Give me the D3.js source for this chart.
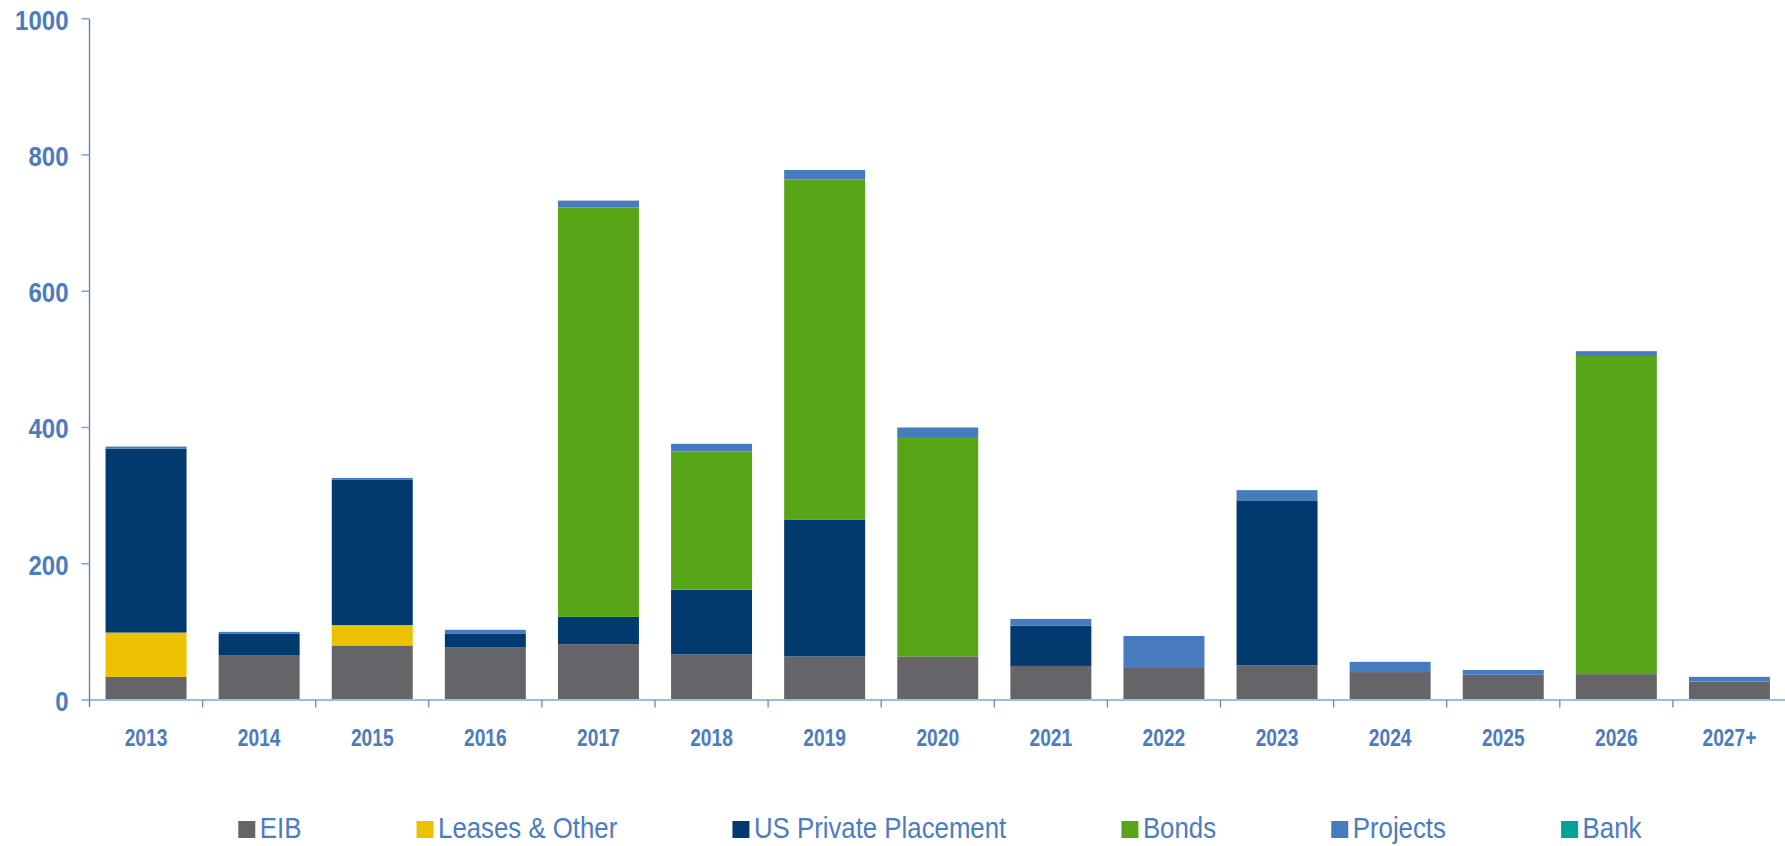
<!DOCTYPE html>
<html>
<head>
<meta charset="utf-8">
<script src="https://cdn.jsdelivr.net/npm/d3@7/dist/d3.min.js"></script>
<style>
  html, body { margin: 0; padding: 0; background: #ffffff; }
  svg { display: block; font-family: "Liberation Sans", Arial, sans-serif; }
</style>
</head>
<body>
<svg id="chart" width="1785" height="846"></svg>
<script>
// ---- Data ----
const categories = ["2013","2014","2015","2016","2017","2018","2019","2020","2021","2022","2023","2024","2025","2026","2027+"];
const seriesNames = ["EIB","Leases & Other","US Private Placement","Bonds","Projects","Bank"];
const eib      = [34, 66, 80, 77, 82, 67, 64, 64, 50, 47, 51, 41, 37, 38, 27];
const leases   = [65,  0, 30,  0,  0,  0,  0,  0,  0,  0,  0,  0,  0,  0,  0];
const usPP     = [270, 31, 213, 20, 40, 95, 201, 0, 59,  0, 242, 0,  0,  0,  0];
const bonds    = [0,   0,  0,  0, 601, 203, 499, 322, 0, 0,  0,  0,  0, 467, 0];
const projects = [3,   3,  3,  6, 10, 11, 14, 14, 10, 47, 15, 15,  7,  7,  7];
const bank     = [0,   0,  0,  0,  0,  0,  0,  0,  0,  0,  0,  0,  0,  0,  0];
const yTicks   = [0, 200, 400, 600, 800, 1000];
const colors   = ["#646469", "#ecc100", "#003a6e", "#58a618", "#477bbf", "#00a496"];

(function () {
// ---- Build table ----
const seriesValues = [eib, leases, usPP, bonds, projects, bank];
const table = categories.map((c, i) => {
  const row = { cat: c };
  seriesNames.forEach((s, j) => row[s] = seriesValues[j][i]);
  return row;
});
const stacked = d3.stack().keys(seriesNames)(table);

// ---- Layout ----
const svg = d3.select("#chart");
const mLeft = 89.5, mRight = 1786, mTop = 18.7, mBottom = 700;
const textColor = "#4a7cc0";

const x = d3.scaleBand().domain(categories).range([mLeft, mRight])
  .paddingInner(0.284).paddingOuter(0.142);
const y = d3.scaleLinear().domain([0, 1000]).range([mBottom, mTop]);
const color = d3.scaleOrdinal().domain(seriesNames).range(colors);

// Bars
svg.append("g").selectAll("g").data(stacked).join("g")
  .attr("fill", d => color(d.key))
  .selectAll("rect").data(d => d).join("rect")
  .attr("x", d => x(d.data.cat))
  .attr("width", x.bandwidth())
  .attr("y", d => y(d[1]))
  .attr("height", d => Math.max(0, y(d[0]) - y(d[1])));

// X axis line
svg.append("line")
  .attr("x1", mLeft).attr("x2", mRight)
  .attr("y1", mBottom).attr("y2", mBottom)
  .attr("stroke", "#9fbbe2").attr("stroke-width", 2);

// X boundary ticks
const gap = (x.step() - x.bandwidth()) / 2;
svg.append("g").selectAll("line").data(categories.slice(1)).join("line")
  .attr("x1", d => x(d) - gap).attr("x2", d => x(d) - gap)
  .attr("y1", mBottom).attr("y2", mBottom + 7.5)
  .attr("stroke", "#5d8bd0").attr("stroke-width", 1.3);

// X labels
svg.append("g").selectAll("text").data(categories).join("text")
  .attr("transform", d => `translate(${x(d) + x.bandwidth() / 2},745.7) scale(1,1.22)`)
  .attr("text-anchor", "middle")
  .attr("font-size", "19.2px").attr("font-weight", "bold")
  .attr("fill", textColor)
  .text(d => d);

// Y axis line
svg.append("line")
  .attr("x1", mLeft).attr("x2", mLeft)
  .attr("y1", mTop).attr("y2", mBottom + 7)
  .attr("stroke", "#4d7cc2").attr("stroke-width", 1.3);

// Y ticks
svg.append("g").selectAll("line").data(yTicks).join("line")
  .attr("x1", mLeft - 8).attr("x2", mLeft)
  .attr("y1", d => y(d)).attr("y2", d => y(d))
  .attr("stroke", "#7fa3d8").attr("stroke-width", 1.5);

// Y labels
svg.append("g").selectAll("text").data(yTicks).join("text")
  .attr("transform", d => `translate(68.5,${y(d) + 10.8}) scale(1,1.12)`)
  .attr("text-anchor", "end")
  .attr("font-size", "24px").attr("font-weight", "bold")
  .attr("fill", textColor)
  .text(d => d);

// Legend
const legend = svg.append("g");
let lx = 238.3;
seriesNames.forEach((name, i) => {
  legend.append("rect")
    .attr("x", lx).attr("y", 821).attr("width", 17).attr("height", 17)
    .attr("fill", colors[i]);
  const t = legend.append("text")
    .attr("transform", `translate(${lx + 21.5},837.7) scale(1,1.13)`)
    .attr("font-size", "25.8px")
    .attr("fill", textColor)
    .text(name);
  const w = t.node().getComputedTextLength();
  lx = lx + 21.5 + w + 115.2;
});
})();
</script>
</body>
</html>
